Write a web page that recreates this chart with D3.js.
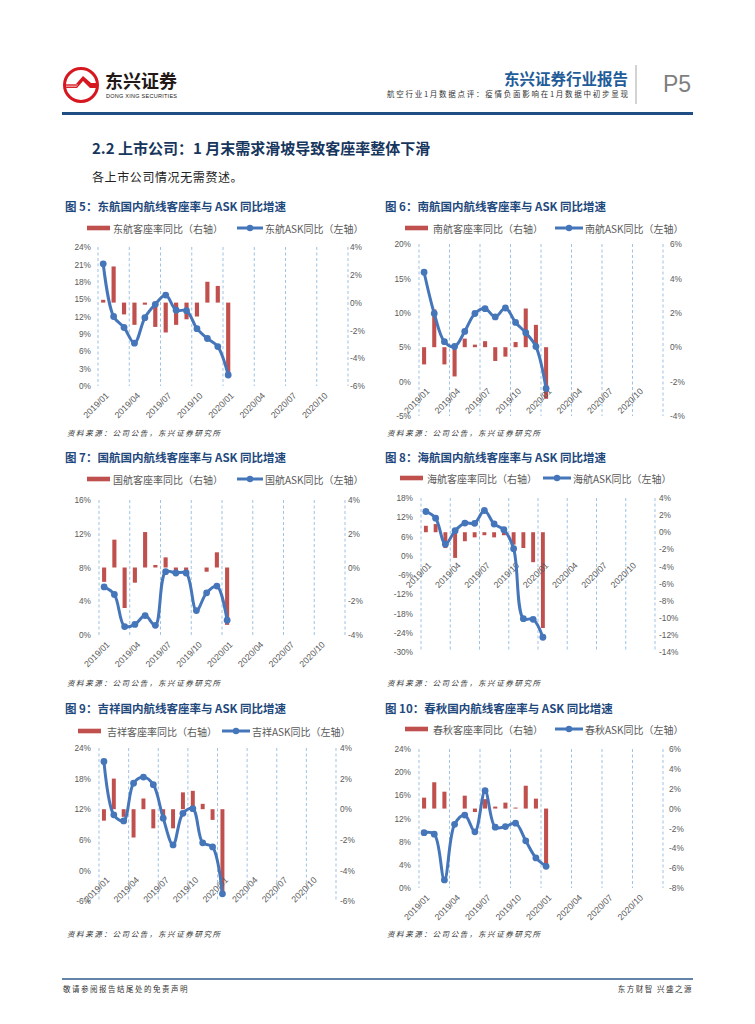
<!DOCTYPE html>
<html>
<head>
<meta charset="utf-8">
<script src="https://cdn.jsdelivr.net/npm/d3@7"></script>
<style>
  body { margin: 0; background: #fff; }
  svg text { font-family: "Noto Sans CJK SC", "Noto Sans", sans-serif; }
  .num { font-family: "Liberation Sans", Arial, sans-serif; }
</style>
</head>
<body>
<svg id="page" width="755" height="1024"></svg>
<script>
// categories: 24 months, only the first 13 carry data
const months = ['2019/01','2019/02','2019/03','2019/04','2019/05','2019/06','2019/07','2019/08',
  '2019/09','2019/10','2019/11','2019/12','2020/01','2020/02','2020/03','2020/04','2020/05',
  '2020/06','2020/07','2020/08','2020/09','2020/10','2020/11','2020/12'];
const tickMonths = ['2019/01','2019/04','2019/07','2019/10','2020/01','2020/04','2020/07','2020/10'];

// ASK yoy (left axis, %) and load factor yoy (right axis, pct)
const askCEA = [21.1, 12.0, 10.1, 7.4, 11.8, 14.1, 15.7, 13.1, 13.0, 9.9, 8.2, 6.8, 1.9];
const lfCEA  = [0.2, 2.6, -0.85, -1.6, -0.15, -1.75, -2.15, -1.6, -1.2, -1.0, 1.5, 1.2, -5.2];

const askCSA = [15.9, 9.9, 5.8, 5.1, 7.3, 9.9, 10.6, 9.4, 10.7, 8.6, 7.1, 5.1, -1.0];
const lfCSA  = [-1.0, 2.2, -1.0, -1.7, 0.5, 0.15, 0.35, -0.8, -0.55, 0.3, 2.25, 1.3, -3.0];

const askCA = [5.7, 4.8, 1.0, 1.25, 2.3, 1.15, 7.5, 7.35, 7.35, 2.9, 5.0, 5.8, 1.75];
const lfCA  = [-0.85, 1.65, -2.4, -0.9, 2.1, 0.15, 0.6, -0.15, -0.2, 0, -0.25, 0.9, -3.4];

const askHNA = [13.8, 11.7, 3.6, 7.8, 10.2, 10.1, 14.1, 9.9, 8.1, 2.2, -19.6, -19.8, -25.4];
const lfHNA  = [0.75, 0.95, -1.85, -3.0, -1.05, -0.6, -0.35, -0.6, -0.35, -1.45, -1.85, -3.5, -11.2];

const askJX = [21.35, 10.9, 9.7, 17.1, 18.3, 16.8, 10.25, 5.0, 11.2, 12.1, 5.4, 4.6, -4.6];
const lfJX  = [-0.75, 2.0, -0.5, -1.85, 0.7, -1.25, -0.65, -1.25, 1.1, 1.2, 0.35, -0.7, -5.4];

const askCQ = [9.55, 9.3, 1.4, 11.0, 12.6, 9.7, 16.8, 10.5, 10.6, 11.2, 8.15, 5.2, 3.75];
const lfCQ  = [1.1, 2.65, 1.7, 0, 1.3, -0.35, 0.95, 0.2, 0.6, 0.1, 2.3, 1.0, -5.8];

const charts = [
  { no: '5', name: '东航', ask: askCEA, lf: lfCEA, left: [0, 24, 3], right: [-6, 4, 2],
    x0: 98, x1: 348, y0: 247, y1: 386, lx: 91, rx: 350, tx: 65, ty: 206, ly: 228,
    leg: [87, 113, 237, 265], sy: 432 },
  { no: '6', name: '南航', ask: askCSA, lf: lfCSA, left: [-5, 20, 5], right: [-4, 6, 2],
    x0: 419, x1: 663, y0: 244, y1: 416, lx: 411, rx: 670, tx: 385, ty: 206, ly: 228,
    leg: [405, 433, 555, 585], sy: 432 },
  { no: '7', name: '国航', ask: askCA, lf: lfCA, left: [0, 16, 4], right: [-4, 4, 2],
    x0: 99, x1: 345, y0: 500, y1: 635, lx: 91, rx: 348, tx: 65, ty: 457, ly: 479,
    leg: [87, 113, 237, 265], sy: 682 },
  { no: '8', name: '海航', ask: askHNA, lf: lfHNA, left: [-30, 18, 6], right: [-14, 4, 2],
    x0: 421, x1: 655, y0: 498, y1: 652, lx: 413, rx: 659, tx: 385, ty: 457, ly: 478,
    leg: [400, 427, 543, 573], sy: 682 },
  { no: '9', name: '吉祥', ask: askJX, lf: lfJX, left: [-6, 24, 6], right: [-6, 4, 2],
    x0: 99, x1: 336, y0: 748, y1: 901, lx: 91, rx: 340, tx: 65, ty: 708, ly: 731,
    leg: [78, 107, 222, 252], sy: 933 },
  { no: '10', name: '春秋', ask: askCQ, lf: lfCQ, left: [0, 24, 4], right: [-8, 6, 2],
    x0: 419, x1: 663, y0: 749, y1: 888, lx: 411, rx: 669, tx: 385, ty: 708, ly: 729,
    leg: [405, 433, 555, 585], sy: 933 }
];

const RED = '#c0504d', BLUE = '#4576ba', GRID = '#9dc3e6', GREY = '#595959', NAVY = '#1f497d';
const svg = d3.select('#page');

// ---------- page header ----------
const logo = svg.append('g');
logo.append('circle').attr('cx', 81).attr('cy', 85).attr('r', 16.5)
  .attr('fill', '#fff').attr('stroke', '#d7171f').attr('stroke-width', 3);
logo.append('path')
  .attr('d', 'M66,88 L66,84 L76,84 L83,76 L91,83 L96,83 L96,88 L90,88 L83,81 L77,88 Z')
  .attr('fill', '#d7171f');
[85, 86.6].forEach(y => logo.append('line').attr('x1', 66).attr('x2', 78 - (y - 85) * 0.8)
  .attr('y1', y).attr('y2', y).attr('stroke', '#fff').attr('stroke-width', 0.6));
logo.append('text').attr('x', 105).attr('y', 80).attr('dominant-baseline', 'central')
  .attr('font-size', 18).attr('font-weight', 700).attr('fill', '#231815').text('东兴证券');
logo.append('text').attr('class', 'num').attr('x', 106).attr('y', 96)
  .attr('dominant-baseline', 'central').attr('font-size', 5.5).attr('fill', '#231815')
  .attr('textLength', 71).attr('lengthAdjust', 'spacing').text('DONG XING SECURITIES');

svg.append('text').attr('x', 628).attr('y', 78).attr('text-anchor', 'end')
  .attr('dominant-baseline', 'central').attr('font-size', 15.5).attr('font-weight', 700)
  .attr('fill', '#1f5c99').text('东兴证券行业报告');
svg.append('text').attr('x', 628).attr('y', 93).attr('text-anchor', 'end')
  .attr('dominant-baseline', 'central').attr('font-size', 7.5).attr('fill', '#333')
  .attr('textLength', 241).attr('lengthAdjust', 'spacing')
  .text('航空行业1月数据点评：疫情负面影响在1月数据中初步显现');
svg.append('line').attr('x1', 636).attr('x2', 636).attr('y1', 65).attr('y2', 104)
  .attr('stroke', '#a6a6a6').attr('stroke-width', 1);
svg.append('text').attr('class', 'num').attr('x', 663).attr('y', 84)
  .attr('dominant-baseline', 'central').attr('font-size', 23).attr('fill', '#7f7f7f').text('P5');
svg.append('rect').attr('x', 62).attr('y', 112).attr('width', 631).attr('height', 3)
  .attr('fill', '#1f4e85');

svg.append('text').attr('x', 92).attr('y', 147).attr('dominant-baseline', 'central')
  .attr('font-size', 15).attr('font-weight', 700).attr('fill', '#17365d')
  .text('2.2 上市公司：1 月末需求滑坡导致客座率整体下滑');
svg.append('text').attr('x', 92).attr('y', 176).attr('dominant-baseline', 'central')
  .attr('font-size', 12).attr('letter-spacing', 0.6).attr('fill', '#222')
  .text('各上市公司情况无需赘述。');

// ---------- charts ----------
charts.forEach(c => {
  const g = svg.append('g');

  g.append('text').attr('x', c.tx).attr('y', c.ty).attr('dominant-baseline', 'central')
    .attr('font-size', 11.5).attr('font-weight', 700).attr('fill', NAVY)
    .text(`图 ${c.no}：${c.name}国内航线客座率与 ASK 同比增速`);

  // legend
  g.append('rect').attr('x', c.leg[0]).attr('y', c.ly - 2.3).attr('width', 23).attr('height', 4.6)
    .attr('fill', RED);
  g.append('text').attr('x', c.leg[1]).attr('y', c.ly).attr('dominant-baseline', 'central')
    .attr('font-size', 10).attr('fill', GREY).text(`${c.name}客座率同比（右轴）`);
  g.append('line').attr('x1', c.leg[2]).attr('x2', c.leg[3] - 2).attr('y1', c.ly).attr('y2', c.ly)
    .attr('stroke', BLUE).attr('stroke-width', 3);
  g.append('circle').attr('cx', (c.leg[2] + c.leg[3] - 2) / 2).attr('cy', c.ly).attr('r', 3.2)
    .attr('fill', BLUE);
  g.append('text').attr('x', c.leg[3]).attr('y', c.ly).attr('dominant-baseline', 'central')
    .attr('font-size', 10).attr('fill', GREY).text(`${c.name}ASK同比（左轴）`);

  const x = d3.scaleBand().domain(months).range([c.x0, c.x1]);
  const bw = x.bandwidth();
  const yL = d3.scaleLinear().domain([c.left[0], c.left[1]]).range([c.y1, c.y0]);
  const yR = d3.scaleLinear().domain([c.right[0], c.right[1]]).range([c.y1, c.y0]);

  // dashed vertical gridlines every quarter
  const gx = tickMonths.map(m => x(m)).concat([c.x1]);
  g.selectAll('.grid').data(gx).join('line')
    .attr('x1', d => d).attr('x2', d => d).attr('y1', c.y0).attr('y2', c.y1)
    .attr('stroke', GRID).attr('stroke-width', 1).attr('stroke-dasharray', '3,2.5');

  // y axes
  const lt = d3.range(c.left[0], c.left[1] + 0.001, c.left[2]);
  const rt = d3.range(c.right[0], c.right[1] + 0.001, c.right[2]);
  const axL = g.append('g').attr('transform', `translate(${c.lx},0)`)
    .call(d3.axisLeft(yL).tickValues(lt).tickSize(0).tickPadding(0).tickFormat(d => d + '%'));
  const axR = g.append('g').attr('transform', `translate(${c.rx},0)`)
    .call(d3.axisRight(yR).tickValues(rt).tickSize(0).tickPadding(0).tickFormat(d => d + '%'));
  [axL, axR].forEach(a => {
    a.select('.domain').remove();
    a.selectAll('text').attr('class', 'num').attr('font-size', 8.3).attr('fill', GREY);
  });

  // bars: load factor yoy on the right axis
  const data = c.ask.map((v, i) => ({ m: months[i], ask: v, lf: c.lf[i] }));
  g.selectAll('.bar').data(data.filter(d => d.lf !== 0)).join('rect')
    .attr('x', d => x(d.m) + bw * 0.3).attr('width', bw * 0.4)
    .attr('y', d => Math.min(yR(d.lf), yR(0)))
    .attr('height', d => Math.abs(yR(d.lf) - yR(0)))
    .attr('fill', RED);

  // x labels sit at the left axis zero line
  const z = yL(0);
  const axX = g.append('g').attr('transform', `translate(0,${z})`)
    .call(d3.axisBottom(x).tickValues(tickMonths).tickSize(0).tickPadding(0));
  axX.select('.domain').remove();
  axX.selectAll('text').attr('class', 'num').attr('font-size', 8.8).attr('fill', GREY)
    .attr('text-anchor', 'end').attr('dy', '0.35em').attr('y', 0)
    .attr('transform', 'translate(4,8) rotate(-45)');

  // ASK yoy line on the left axis
  const line = d3.line().x(d => x(d.m) + bw / 2).y(d => yL(d.ask)).curve(d3.curveCatmullRom.alpha(0.5));
  g.append('path').datum(data).attr('d', line).attr('fill', 'none')
    .attr('stroke', BLUE).attr('stroke-width', 3).attr('stroke-linejoin', 'round');
  g.selectAll('.dot').data(data).join('circle')
    .attr('cx', d => x(d.m) + bw / 2).attr('cy', d => yL(d.ask)).attr('r', 3.4).attr('fill', BLUE);

  g.append('text').attr('x', c.tx + 2).attr('y', c.sy).attr('dominant-baseline', 'central')
    .attr('font-size', 7.5).attr('font-style', 'italic').attr('letter-spacing', 1.6)
    .attr('fill', '#333').text('资料来源：公司公告，东兴证券研究所');
});

// ---------- footer ----------
svg.append('line').attr('x1', 62).attr('x2', 693).attr('y1', 979).attr('y2', 979)
  .attr('stroke', '#2e5c8a').attr('stroke-width', 1.5);
svg.append('text').attr('x', 63).attr('y', 988).attr('dominant-baseline', 'central')
  .attr('font-size', 7.5).attr('letter-spacing', 1.5).attr('fill', '#333')
  .text('敬请参阅报告结尾处的免责声明');
svg.append('text').attr('x', 693).attr('y', 988).attr('text-anchor', 'end')
  .attr('dominant-baseline', 'central').attr('font-size', 7.5).attr('letter-spacing', 1.5)
  .attr('fill', '#333').text('东方财智 兴盛之源');
</script>
</body>
</html>
